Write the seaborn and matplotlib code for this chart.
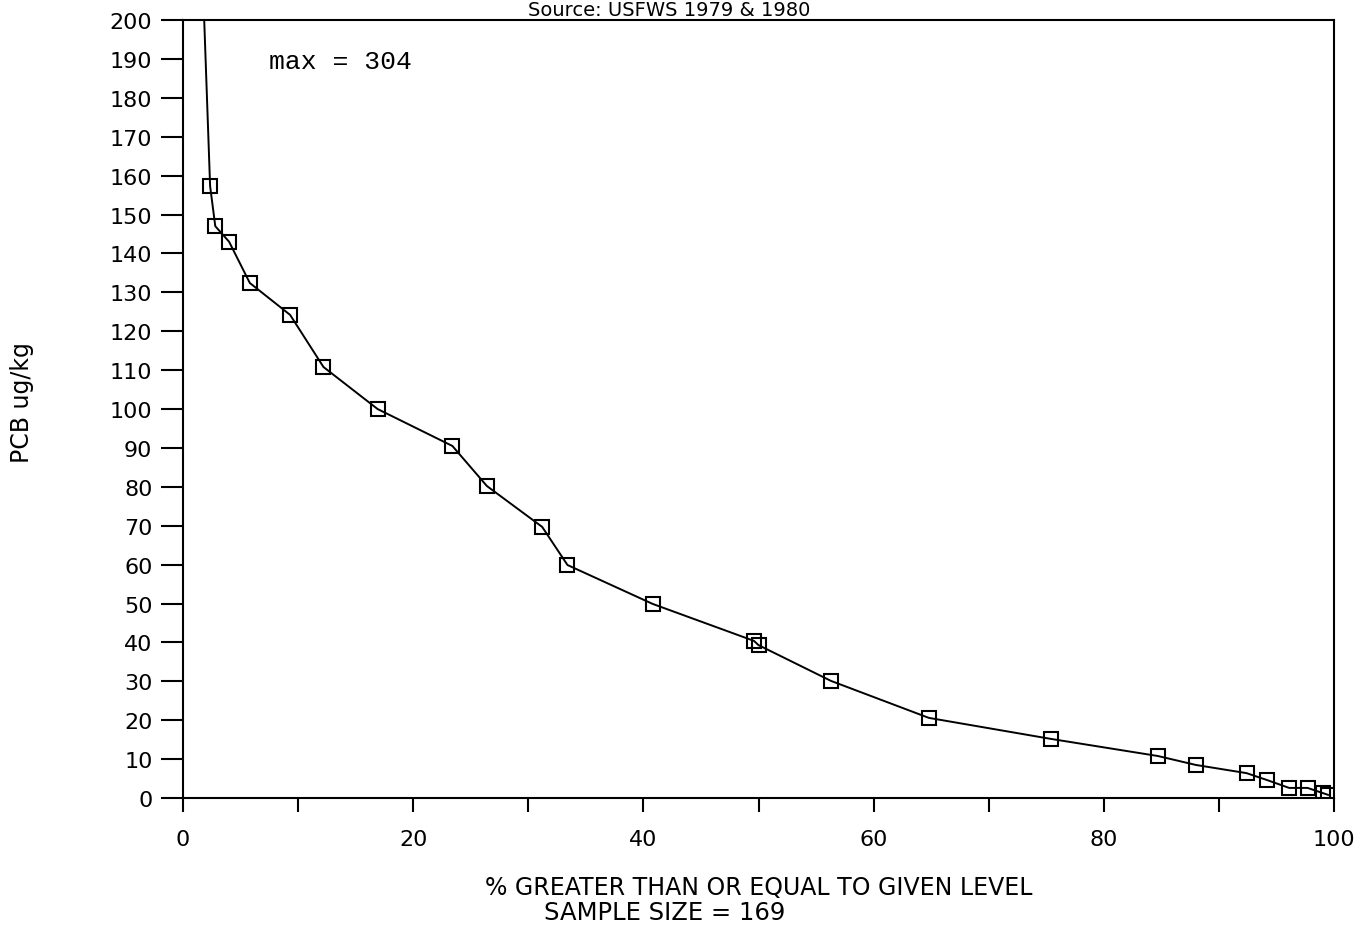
import numpy as np
import pandas as pd
import matplotlib
matplotlib.use("Agg")
import matplotlib.pyplot as plt
import seaborn as sns

# Data
pct_ge = [2.35, 2.8, 4.0, 5.8, 9.3, 12.2, 16.9, 23.4, 26.4, 31.2, 33.4, 40.8,
          49.6, 50.0, 56.3, 64.8, 75.4, 84.7, 88.0, 92.4, 94.2, 96.1, 97.7, 99.0, 99.5]
pcb = [157.3, 147.0, 143.0, 132.4, 124.2, 110.8, 100.0, 90.5, 80.2, 69.7, 59.9, 49.9,
       40.4, 39.3, 30.1, 20.6, 15.2, 10.8, 8.5, 6.4, 4.6, 2.6, 2.6, 1.3, 0.8]
max_pct = [0.59]
max_val = [304]

x_ticks = [0, 10, 20, 30, 40, 50, 60, 70, 80, 90, 100]
x_labels = ["0", "", "20", "", "40", "", "60", "", "80", "", "100"]
y_ticks = list(range(0, 201, 10))

sns.set_style("ticks")
plt.rcParams["font.family"] = ["DejaVu Sans"]
plt.rcParams["text.color"] = "black"

fig = plt.figure(figsize=(13.61, 9.29), dpi=100)
ax = fig.add_axes([0.1345, 0.1399, 0.8457, 0.8375])

line_df = pd.DataFrame({"x": max_pct + pct_ge, "y": max_val + pcb})
pts_df = pd.DataFrame({"x": pct_ge, "y": pcb})

sns.lineplot(data=line_df, x="x", y="y", sort=False, color="black", lw=1.4, ax=ax)
sns.lineplot(data=pts_df, x="x", y="y", sort=False, color="black", lw=0,
             marker="s", markersize=10.5, markerfacecolor="none",
             markeredgecolor="black", markeredgewidth=1.5, ax=ax)

ax.set_xlim(0, 100)
ax.set_ylim(0, 200)
ax.set_xticks(x_ticks)
ax.set_xticklabels(x_labels)
ax.set_yticks(y_ticks)
ax.set_yticklabels([str(v) for v in y_ticks])

for s in ax.spines.values():
    s.set_visible(True)
    s.set_color("black")
    s.set_linewidth(1.5)

ax.tick_params(axis="x", direction="out", length=10, width=1.5, pad=12,
               labelsize=16, colors="black")
ax.tick_params(axis="y", direction="out", length=16, width=1.5, pad=6,
               labelsize=16, colors="black")

ax.set_xlabel("")
ax.set_ylabel("")

fig.text(0.5577, 0.0441, "% GREATER THAN OR EQUAL TO GIVEN LEVEL", ha="center",
         va="center", fontsize=17, color="black")
fig.text(0.4882, 0.0172, "SAMPLE SIZE = 169", ha="center", va="center",
         fontsize=17.5, color="black")
fig.text(0.0162, 0.567, "PCB ug/kg", rotation=90, ha="center", va="center",
         fontsize=17, color="black")
fig.text(0.492, 0.989, "Source: USFWS 1979 & 1980", ha="center", va="center",
         fontsize=14, color="black")

ax.text(7.5, 189.5, "max = 304", ha="left", va="center", fontsize=19, color="black",
        family=["Liberation Mono", "DejaVu Sans Mono"])

fig.savefig("out.png", dpi=100, facecolor="white")
